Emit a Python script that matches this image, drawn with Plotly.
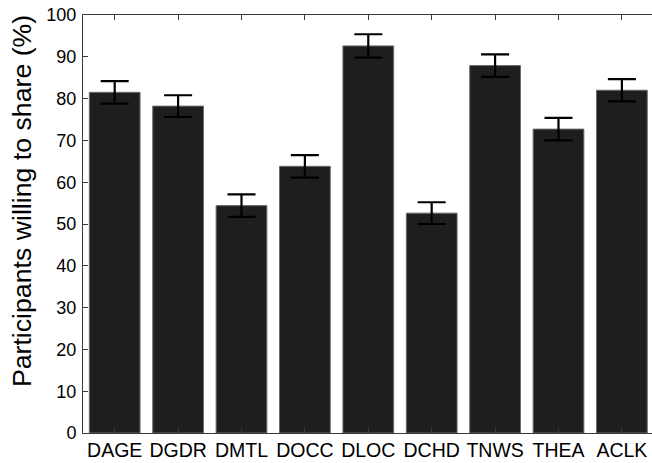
import plotly.graph_objects as go

# Share rates per data type, with standard errors
categories = ["DAGE", "DGDR", "DMTL", "DOCC", "DLOC", "DCHD", "TNWS", "THEA", "ACLK"]
share_pct = [81.5, 78.2, 54.4, 63.8, 92.6, 52.6, 87.9, 72.7, 82.0]
share_err = [2.7, 2.6, 2.7, 2.7, 2.8, 2.6, 2.7, 2.7, 2.65]
y_ticks = [0, 10, 20, 30, 40, 50, 60, 70, 80, 90, 100]
y_title = "Participants willing to share (%)"

FONT = "Liberation Sans, Arial, Helvetica, sans-serif"
AXIS_COLOR = "#3a3a3a"

fig = go.Figure()
fig.add_trace(go.Bar(
    x=categories,
    y=share_pct,
    width=0.8,
    marker=dict(color="#1e1e1e", line=dict(color="#6a6a6a", width=1)),
    error_y=dict(type="data", array=share_err, visible=True,
                 color="black", thickness=2.2, width=14),
    showlegend=False,
))

fig.update_layout(
    width=652,
    height=463,
    margin=dict(l=83, r=0, t=15, b=30),
    paper_bgcolor="white",
    plot_bgcolor="white",
    bargap=0.2,
    font=dict(family=FONT, color="black"),
    xaxis=dict(
        type="category",
        range=[-0.5, 8.475],
        showline=True, linecolor=AXIS_COLOR, linewidth=1,
        mirror="ticks",
        ticks="inside", ticklen=5, tickcolor=AXIS_COLOR,
        tickfont=dict(size=19.5, family=FONT, color="black"),
        showgrid=False, zeroline=False,
    ),
    yaxis=dict(
        range=[0, 100],
        tickvals=y_ticks,
        showline=True, linecolor=AXIS_COLOR, linewidth=1,
        mirror=False,
        ticks="inside", ticklen=5, tickcolor=AXIS_COLOR,
        tickfont=dict(size=18, family=FONT, color="black"),
        ticklabelstandoff=2,
        showgrid=False, zeroline=False,
    ),
    # right-hand tick marks without a visible frame line
    yaxis2=dict(
        overlaying="y", side="right", anchor="x",
        range=[0, 100], tickvals=y_ticks,
        ticks="inside", ticklen=5, tickcolor=AXIS_COLOR,
        showticklabels=False, showline=False,
        showgrid=False, zeroline=False,
    ),
    annotations=[dict(
        text=y_title, textangle=-90,
        xref="paper", yref="paper", x=-0.106, y=0.554,
        xanchor="center", yanchor="middle", showarrow=False,
        font=dict(size=26.7, family=FONT, color="black"),
    )],
)

fig.write_html("out.html")
